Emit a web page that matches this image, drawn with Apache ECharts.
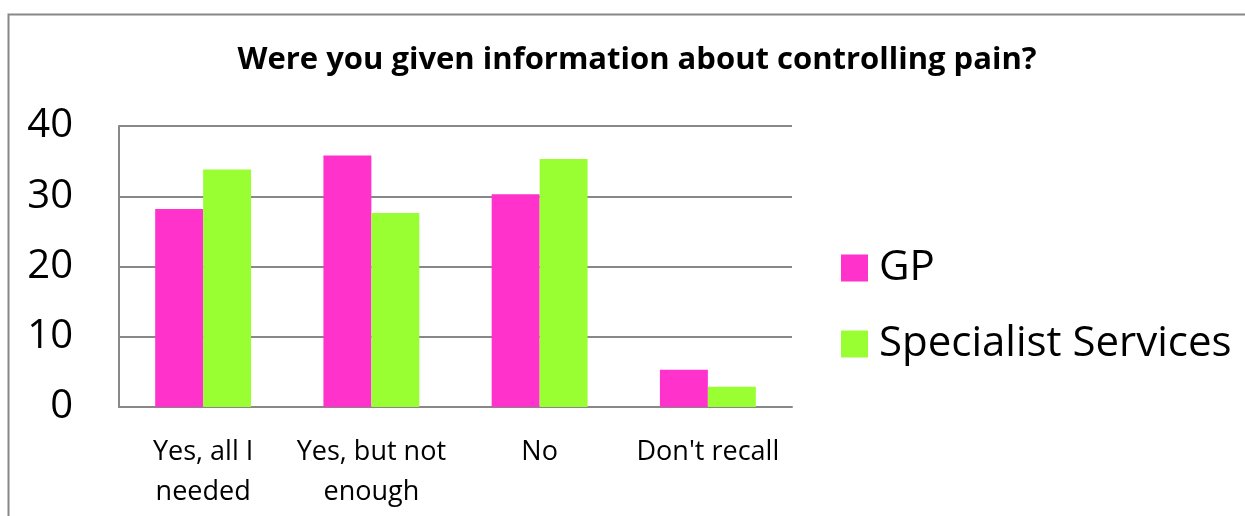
<!DOCTYPE html>
<html><head><meta charset="utf-8">
<script src="https://cdn.jsdelivr.net/npm/echarts@6/dist/echarts.min.js"></script>
<style>html,body{margin:0;padding:0;background:#fff}#c{width:1245px;height:516px}</style>
</head><body><div id="c"></div>
<script>
const categories = ["Yes, all I\nneeded", "Yes, but not\nenough", "No", "Don't recall"];
const gpValues = [28.2, 35.8, 30.3, 5.3];
const specialistValues = [33.8, 27.6, 35.3, 2.9];
const seriesNames = ["GP", "Specialist Services"];
const titleText = "Were you given information about controlling pain?";

const font = "'Open Sans', 'Noto Sans', sans-serif";
const chart = echarts.init(document.getElementById('c'));
chart.setOption({
  animation: false,
  graphic: [{type:'rect', shape:{x:8.5,y:14.5,width:1300,height:600}, style:{fill:'none', stroke:'#888', lineWidth:2}}],
  title: {text: titleText, left: 632, top: 40, textAlign: 'center',
    textStyle: {fontFamily: font, fontWeight: 'bold', fontSize: 31, color: '#000'}},
  legend: {orient: 'vertical', left: 836, top: 242, itemWidth: 27, itemHeight: 27, itemGap: 34,
    icon: 'rect', textStyle: {fontFamily: font, fontSize: 42, lineHeight: 41, color: '#000', padding:[0,0,0,6]},
    data: seriesNames},
  grid: {left: 119, right: 1245-792, top: 126, bottom: 516-407},
  xAxis: {type: 'category', data: categories,
    axisLine: {lineStyle: {color: '#888', width: 2}}, axisTick: {show: false},
    axisLabel: {fontFamily: font, fontSize: 27, color: '#000', margin: 25, lineHeight: 40, interval: 0}},
  yAxis: {type: 'value', min: 0, max: 40, interval: 10,
    axisLine: {show: true, lineStyle: {color: '#888', width: 2}}, axisTick: {show: false},
    splitLine: {lineStyle: {color: '#888', width: 2}},
    axisLabel: {fontFamily: font, fontSize: 40, color: '#000', margin: 46, padding: [4,0,0,0]}},
  series: [
    {name: seriesNames[0], type: 'bar', data: gpValues, barGap: '0%', barCategoryGap: '43%', itemStyle: {color: '#FF33CC'}},
    {name: seriesNames[1], type: 'bar', data: specialistValues, itemStyle: {color: '#99FF33'}}
  ]
});
</script></body></html>
